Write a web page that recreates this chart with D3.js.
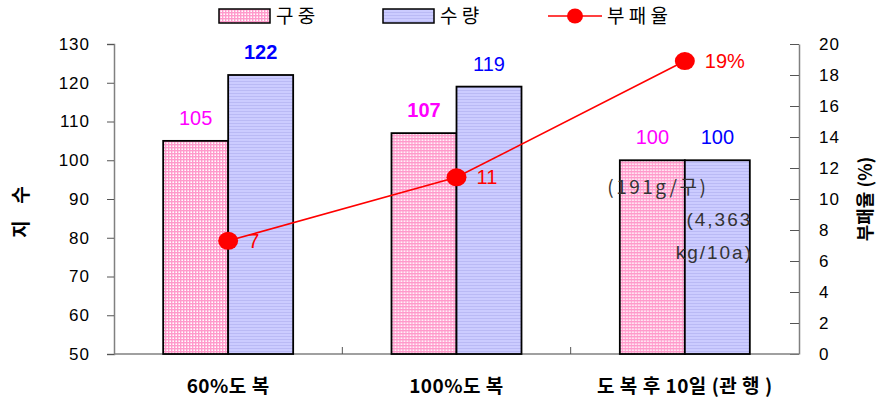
<!DOCTYPE html>
<html>
<head>
<meta charset="utf-8">
<script src="https://cdn.jsdelivr.net/npm/d3@7"></script>
<style>
    body { margin: 0; background: #fff; }
    svg text { font-family: "Liberation Sans", Arial, sans-serif; }
    .kr { font-family: "Noto Sans CJK KR", "Liberation Sans", sans-serif; }
</style>
</head>
<body>
<div id="chart"></div>
<script>
// data
const categories = ["60%도 복", "100%도 복", "도 복 후 10일 (관 행 )"];
const series = ["구 중", "수 량"];
const weightIdx = [105, 107, 100];   // 구중
const yieldIdx = [122, 119, 100];    // 수량
const decayRate = [7.3, 11.4, 18.9]; // 부패율 (%)
const decayLabels = ["7", "11", "19%"];
const leftTicks = [50, 60, 70, 80, 90, 100, 110, 120, 130];
const rightTicks = [0, 2, 4, 6, 8, 10, 12, 14, 16, 18, 20];
const notes = [["(191g/구)"], ["(4,363", "kg/10a)"]];

const width = 879;
const height = 403;
const margin = { top: 44, bottom: 49, left: 114, right: 80 };

const svg = d3.select("div#chart")
    .append("svg")
    .attr("width", width)
    .attr("height", height);

// patterns
const defs = svg.append("defs");
const pinkPat = defs.append("pattern")
    .attr("id", "pinkPat")
    .attr("patternUnits", "userSpaceOnUse")
    .attr("width", 3).attr("height", 3);
pinkPat.append("rect").attr("width", 3).attr("height", 3).attr("fill", "#fff");
pinkPat.append("rect").attr("x", 0).attr("width", 1.4).attr("height", 3).attr("fill", "#ff9acb");
pinkPat.append("rect").attr("y", 0).attr("width", 3).attr("height", 1.4).attr("fill", "#ff9acb");

const bluePat = defs.append("pattern")
    .attr("id", "bluePat")
    .attr("patternUnits", "userSpaceOnUse")
    .attr("width", 4).attr("height", 3);
bluePat.append("rect").attr("width", 4).attr("height", 3).attr("fill", "#ccccff");
bluePat.append("rect").attr("y", 0).attr("width", 4).attr("height", 1).attr("fill", "#babaf5");

const fills = ["url(#pinkPat)", "url(#bluePat)"];

// scales
const x = d3.scaleBand()
    .domain(categories)
    .range([margin.left, width - margin.right])
    .padding(0);

const barW = 65;
const xs = d3.scaleBand()
    .domain(series)
    .range([x.bandwidth() / 2 - barW, x.bandwidth() / 2 + barW]);

const yL = d3.scaleLinear().domain([50, 130]).range([height - margin.bottom, margin.top]);
const yR = d3.scaleLinear().domain([0, 20]).range([height - margin.bottom, margin.top]);

// axes
const axisColor = "#808080";

const leftAxis = svg.append("g")
    .attr("transform", `translate(${margin.left},0)`)
    .call(d3.axisLeft(yL).tickValues(leftTicks).tickSize(7).tickPadding(17));
const rightAxis = svg.append("g")
    .attr("transform", `translate(${width - margin.right},0)`)
    .call(d3.axisRight(yR).tickValues(rightTicks).tickSize(0).tickPadding(20));
rightAxis.selectAll(".tick").append("line")
    .attr("x1", -9).attr("x2", 0).attr("stroke", "#000");

[leftAxis, rightAxis].forEach((g) => {
    g.select(".domain").attr("stroke", axisColor).attr("stroke-width", 1.5);
    g.selectAll(".tick line").attr("stroke", "#555");
    g.selectAll(".tick text")
        .attr("fill", "#000")
        .style("font-size", "17px")
        .style("letter-spacing", "1px");
});

// bottom axis line + category ticks
const bottom = svg.append("g").attr("class", "xAxisGroup");
bottom.append("line")
    .attr("x1", margin.left).attr("x2", width - margin.right)
    .attr("y1", yL(50)).attr("y2", yL(50))
    .attr("stroke", axisColor).attr("stroke-width", 1.5);
bottom.selectAll("line.tk")
    .data(categories.slice(1))
    .join("line")
    .attr("class", "tk")
    .attr("x1", (d) => x(d)).attr("x2", (d) => x(d))
    .attr("y1", yL(50) - 7).attr("y2", yL(50))
    .attr("stroke", "#555");
bottom.selectAll("text")
    .data(categories)
    .join("text")
    .attr("class", "kr")
    .attr("x", (d) => x(d) + x.bandwidth() / 2)
    .attr("y", 393)
    .attr("text-anchor", "middle")
    .style("font-size", "19px")
    .style("font-weight", "bold")
    .style("letter-spacing", "0.5px")
    .text((d) => d);

// bars
const rows = categories.map((c, i) => ({ cat: c, vals: [weightIdx[i], yieldIdx[i]] }));
const groups = svg.append("g").selectAll("g")
    .data(rows)
    .join("g")
    .attr("transform", (d) => `translate(${x(d.cat)},0)`);

groups.selectAll("rect")
    .data((d) => d.vals.map((v, j) => ({ s: series[j], v: v, j: j })))
    .join("rect")
    .attr("x", (d) => xs(d.s))
    .attr("y", (d) => yL(d.v))
    .attr("width", xs.bandwidth())
    .attr("height", (d) => yL(50) - yL(d.v))
    .attr("fill", (d) => fills[d.j])
    .attr("stroke", "#000")
    .attr("stroke-width", 1.8);

// bar labels
const labelColor = ["#ff00ff", "#0000ff"];
const boldLabel = [[false, true], [true, false], [false, false]];
groups.selectAll("text")
    .data((d, i) => d.vals.map((v, j) => ({ s: series[j], v: v, j: j, b: boldLabel[i][j] })))
    .join("text")
    .attr("x", (d) => xs(d.s) + xs.bandwidth() / 2)
    .attr("y", (d) => yL(d.v) - 16)
    .attr("text-anchor", "middle")
    .attr("fill", (d) => labelColor[d.j])
    .style("font-size", "20px")
    .style("font-weight", (d) => (d.b ? "bold" : "normal"))
    .text((d) => d.v);

// notes inside last group
const lastX = x(categories[2]);
svg.append("text")
    .attr("class", "kr")
    .attr("x", lastX + xs(series[0]) + xs.bandwidth() - 27)
    .attr("y", yL(91.3))
    .attr("text-anchor", "middle")
    .attr("fill", "#333")
    .style("font-size", "19px")
    .style("letter-spacing", "2.5px")
    .text(notes[0][0]);
svg.append("text")
    .attr("x", lastX + xs(series[1]) + xs.bandwidth() / 2)
    .attr("y", yL(83))
    .attr("text-anchor", "middle")
    .attr("fill", "#333")
    .style("font-size", "19px")
    .style("letter-spacing", "2px")
    .selectAll("tspan")
    .data(notes[1])
    .join("tspan")
    .attr("x", (d, i) => lastX + xs(series[1]) + xs.bandwidth() / 2 + (i === 0 ? 2 : -3))
    .attr("dy", (d, i) => (i === 0 ? 0 : 33))
    .text((d) => d);

// decay line
const cx = (i) => x(categories[i]) + x.bandwidth() / 2;
const line = d3.line()
    .x((d, i) => cx(i))
    .y((d) => yR(d));
svg.append("path")
    .datum(decayRate)
    .attr("d", line)
    .attr("fill", "none")
    .attr("stroke", "#ff0000")
    .attr("stroke-width", 1.6);
svg.append("g").selectAll("ellipse")
    .data(decayRate)
    .join("ellipse")
    .attr("cx", (d, i) => cx(i))
    .attr("cy", (d) => yR(d))
    .attr("rx", 10)
    .attr("ry", 9)
    .attr("fill", "#ff0000");
svg.append("g").selectAll("text")
    .data(decayRate)
    .join("text")
    .attr("x", (d, i) => cx(i) + 20)
    .attr("y", (d) => yR(d) + 7)
    .attr("fill", "#ff0000")
    .style("font-size", "20px")
    .text((d, i) => decayLabels[i]);

// axis titles
svg.append("text")
    .attr("class", "kr")
    .attr("transform", `translate(28,${(yL(50) + yL(130)) / 2 + 10}) rotate(-90)`)
    .attr("text-anchor", "middle")
    .style("font-size", "19px")
    .style("font-weight", "bold")
    .style("letter-spacing", "6px")
    .text("지 수");
svg.append("text")
    .attr("class", "kr")
    .attr("transform", `translate(872,${(yL(50) + yL(130)) / 2}) rotate(-90)`)
    .attr("text-anchor", "middle")
    .style("font-size", "18px")
    .style("font-weight", "bold")
    .text("부패율 (%)");

// legend
const legend = svg.append("g").attr("class", "legend");
const legX = [219, 383];
series.forEach((s, i) => {
    legend.append("rect")
        .attr("x", legX[i]).attr("y", 9)
        .attr("width", 51).attr("height", 14)
        .attr("fill", fills[i])
        .attr("stroke", "#000").attr("stroke-width", 1.5);
    legend.append("text")
        .attr("class", "kr")
        .attr("x", legX[i] + 57).attr("y", 23)
        .style("font-size", "19px")
        .text(s);
});
legend.append("line")
    .attr("x1", 548).attr("x2", 602).attr("y1", 16).attr("y2", 16)
    .attr("stroke", "#ff0000").attr("stroke-width", 1.6);
legend.append("ellipse")
    .attr("cx", 575).attr("cy", 16).attr("rx", 8).attr("ry", 7.5)
    .attr("fill", "#ff0000");
legend.append("text")
    .attr("class", "kr")
    .attr("x", 607).attr("y", 23)
    .style("font-size", "19px")
    .text("부 패 율");
</script>
</body>
</html>
